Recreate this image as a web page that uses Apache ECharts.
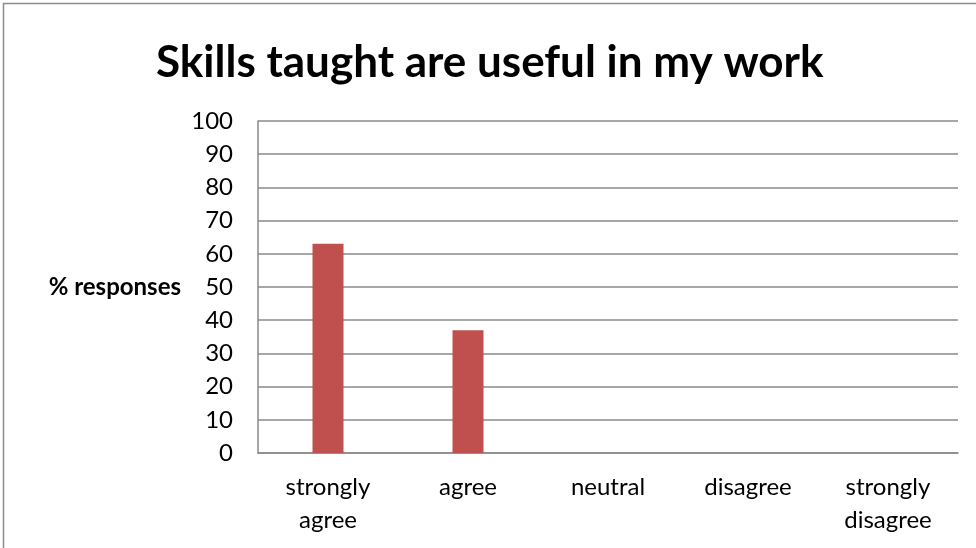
<!DOCTYPE html>
<html>
<head>
<meta charset="utf-8">
<script src="https://cdn.jsdelivr.net/npm/echarts@6/dist/echarts.min.js"></script>
<style>
  html, body { margin: 0; padding: 0; background: #fff; }
  #chart { width: 976px; height: 548px; }
</style>
</head>
<body>
<div id="chart"></div>
<script>
// data
var categories = ["strongly\nagree", "agree", "neutral", "disagree", "strongly\ndisagree"];
var responses = [63, 37, 0, 0, 0];
var yTicks = [0, 100, 10];  // min, max, interval

var font = "Lato, 'Open Sans', sans-serif";
var chart = echarts.init(document.getElementById("chart"));

var option = {
  animation: false,
  title: {
    text: "Skills taught are useful in my work",
    left: 151,
    top: 36,
    textStyle: {
      fontFamily: font,
      fontSize: 44,
      fontWeight: "bold",
      color: "#000",
    },
  },
  graphic: [
    {
      type: "rect",
      shape: { x: 3.5, y: 3.5, width: 990, height: 560 },
      style: { fill: null, stroke: "#8c8c8c", lineWidth: 1.5 },
    },
    {
      type: "text",
      right: 976 - 181,
      top: 275,
      style: {
        text: "% responses",
        font: "bold 24px " + font,
        fill: "#000",
      },
    },
  ],
  grid: {
    left: 258,
    right: 18,
    top: 121,
    bottom: 95,
  },
  xAxis: {
    type: "category",
    data: categories,
    axisLine: { lineStyle: { color: "#8a8a8a", width: 1.5 } },
    axisTick: { show: false },
    axisLabel: {
      margin: 18,
      fontFamily: font,
      fontSize: 24,
      lineHeight: 33,
      color: "#000",
    },
  },
  yAxis: {
    type: "value",
    min: yTicks[0],
    max: yTicks[1],
    interval: yTicks[2],
    axisLine: { show: true, lineStyle: { color: "#8a8a8a", width: 1.5 } },
    axisTick: { show: false },
    splitLine: { lineStyle: { color: "#8a8a8a", width: 1.5 } },
    axisLabel: {
      margin: 25,
      fontFamily: font,
      fontSize: 24,
      color: "#000",
    },
  },
  series: [
    {
      type: "bar",
      data: responses,
      barWidth: 31,
      itemStyle: { color: "#c0504d" },
    },
  ],
};
chart.setOption(option);
</script>
</body>
</html>
